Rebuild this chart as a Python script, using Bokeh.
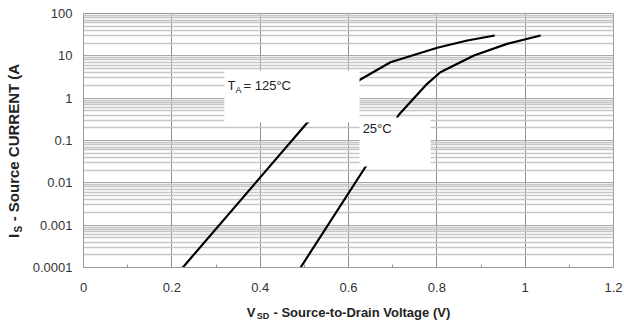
from math import pi
from bokeh.plotting import figure
from bokeh.models import FixedTicker, BoxAnnotation, Label
from bokeh.embed import file_html
from bokeh.resources import INLINE

# ---- data ----
v_125 = [0.2248, 0.5065, 0.627, 0.695, 0.801, 0.869, 0.931]
i_125 = [1e-4, 0.262, 2.76, 7.08, 15.5, 23.0, 30.2]

v_25 = [0.4915, 0.639, 0.714, 0.778, 0.808, 0.884, 0.959, 1.035]
i_25 = [1e-4, 0.0243, 0.405, 2.18, 4.1, 10.2, 19.2, 30.2]

x_ticks = [0, 0.2, 0.4, 0.6, 0.8, 1.0, 1.2]
x_tick_labels = ["0", "0.2", "0.4", "0.6", "0.8", "1", "1.2"]
x_minor_ticks = [0.1, 0.3, 0.5, 0.7, 0.9, 1.1]

y_ticks = [1e-4, 1e-3, 1e-2, 0.1, 1, 10, 100]
y_tick_labels = ["0.0001", "0.001", "0.01", "0.1", "1", "10", "100"]
y_minor_ticks = [m * d for d in y_ticks[:-1] for m in range(2, 10)]

NB = "\u00a0"
x_title = "V" + NB * 5 + "- Source-to-Drain Voltage (V)"
x_title_sub = "SD"
y_title = "I" + NB * 3 + "- Source CURRENT (A" + NB * 5
y_title_sub = "S"

FONT = "Liberation Sans"
GRID_V = "#8f8f8f"
GRID_H = "#a8a8a8"
GRID_H_MINOR = "#c6c6c6"
TXT = "#222222"

p = figure(width=624, height=327, x_range=(0, 1.2), y_range=(1e-4, 100),
           y_axis_type="log", output_backend="svg", toolbar_location=None,
           title=None, min_border_left=83, min_border_right=11,
           min_border_top=13, min_border_bottom=60)
p.background_fill_color = "white"
p.border_fill_color = "white"
p.outline_line_color = "#9a9a9a"

xt = FixedTicker(ticks=x_ticks, minor_ticks=x_minor_ticks)
yt = FixedTicker(ticks=y_ticks, minor_ticks=y_minor_ticks)
p.xaxis.ticker = xt
p.yaxis.ticker = yt
p.xgrid.ticker = xt
p.ygrid.ticker = yt

p.xaxis.major_label_overrides = {t: s for t, s in zip(x_ticks, x_tick_labels)}
p.yaxis.major_label_overrides = {t: s for t, s in zip(y_ticks, y_tick_labels)}

for ax in (p.xaxis[0], p.yaxis[0]):
    ax.axis_line_color = "#9a9a9a"
    ax.major_tick_line_color = None
    ax.major_tick_in = 0
    ax.major_tick_out = 0
    ax.major_label_text_font = FONT
    ax.major_label_text_font_size = "13px"
    ax.major_label_text_color = "#333333"
    ax.axis_label_text_font = FONT
    ax.axis_label_text_font_style = "bold"
    ax.axis_label_text_color = TXT

p.xaxis.axis_label = x_title
p.xaxis.axis_label_text_font_size = "13px"
p.xaxis.axis_label_standoff = 10
p.yaxis.axis_label = y_title
p.yaxis.axis_label_text_font_size = "15px"
p.yaxis.axis_label_standoff = 8

p.xaxis.minor_tick_line_color = "#9a9a9a"
p.xaxis.minor_tick_in = 3
p.xaxis.minor_tick_out = 0
p.yaxis.minor_tick_line_color = None
p.yaxis.minor_tick_in = 0
p.yaxis.minor_tick_out = 0
p.xaxis.major_label_standoff = 15
p.yaxis.major_label_standoff = 11

p.xgrid.grid_line_color = GRID_V
p.xgrid.minor_grid_line_color = None
p.ygrid.grid_line_color = GRID_H
p.ygrid.minor_grid_line_color = GRID_H_MINOR
p.ygrid.minor_grid_line_width = 1.4

# ---- curves ----
p.line(v_125, i_125, line_color="black", line_width=2.2)
p.line(v_25, i_25, line_color="black", line_width=2.2)

# ---- white label boxes ----
p.add_layout(BoxAnnotation(left=0.319, right=0.625, bottom=0.266, top=4.5,
                           fill_color="white", fill_alpha=1.0, line_alpha=0))
p.add_layout(BoxAnnotation(left=0.625, right=0.786, bottom=0.0243, top=0.35,
                           fill_color="white", fill_alpha=1.0, line_alpha=0))

def lab(x, y, text, size, xo=0, yo=0, bold=False, angle=0, side=None):
    l = Label(x=x, y=y, text=text, x_offset=xo, y_offset=yo,
              text_font=FONT, text_font_size=size,
              text_font_style="bold" if bold else "normal",
              text_color=TXT, text_align="left",
              text_baseline="middle", angle=angle)
    if side is None:
        p.add_layout(l)
    else:
        p.add_layout(l, side)

# T_A = 125 C
lab(0.326, 1.99, "T", "13px")
lab(0.326, 1.99, "A", "9px", xo=8, yo=-4)
lab(0.326, 1.99, "= 125\u00b0C", "13px", xo=16)
# 25 C
lab(0.632, 0.195, "25\u00b0C", "13px")

# subscripts of the axis titles (side panels: not clipped to the frame)
lab(0.392, 7.0e-6, x_title_sub, "9px", bold=True, side="above")
lab(-0.1483, 6.7e-4, y_title_sub, "10px", bold=True, angle=pi / 2, side="right")

open("out.html", "w").write(file_html(p, INLINE))
